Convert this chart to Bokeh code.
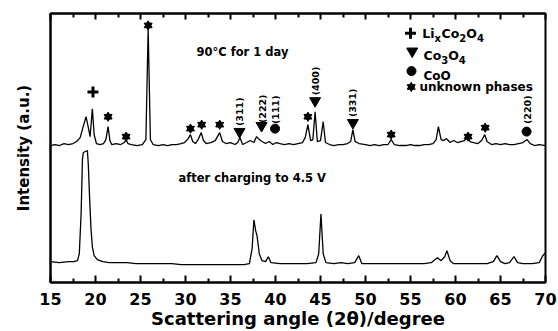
import math
from bokeh.plotting import figure
from bokeh.models import LinearAxis, FixedTicker, Range1d
from bokeh.embed import file_html
from bokeh.resources import INLINE
from bokeh.core.properties import value

FONT = "DejaVu Sans"

# ---------------- data ----------------
x_ticks = [15, 20, 25, 30, 35, 40, 45, 50, 55, 60, 65, 70]
x_tick_labels = ["15", "20", "25", "30", "35", "40", "45", "50", "55", "60", "65", "70"]
x_minor_ticks = [17.5, 22.5, 27.5, 32.5, 37.5, 42.5, 47.5, 52.5, 57.5, 62.5, 67.5]

# 90 C for 1 day (upper pattern)
upper_angle = [15.0, 15.5, 16.0, 16.5, 17.0, 17.5, 17.9, 18.3, 18.6, 18.95, 19.25, 19.4, 19.65, 19.85,
               20.1, 20.5, 20.9, 21.15, 21.4, 21.6, 21.8, 22.3, 22.8, 23.2, 23.4, 23.6, 24.0, 24.6,
               25.2, 25.6, 25.85, 26.1, 26.4, 27.0, 27.5, 28.0, 28.5, 29.0, 29.5, 29.9, 30.3, 30.55,
               30.8, 31.1, 31.4, 31.75, 32.0, 32.3, 32.8, 33.3, 33.8, 34.1, 34.5, 35.0, 35.5, 35.8,
               36.05, 36.35, 36.8, 37.2, 37.6, 37.9, 38.2, 38.5, 38.9, 39.3, 39.7, 40.1, 40.5, 41.0,
               41.5, 42.0, 42.5, 43.0, 43.3, 43.6, 43.9, 44.15, 44.4, 44.65, 45.0, 45.3, 45.55, 46.0,
               46.5, 47.0, 47.5, 48.0, 48.35, 48.6, 48.85, 49.3, 50.0, 50.5, 51.0, 51.5, 52.0, 52.5,
               52.85, 53.2, 53.8, 54.5, 55.0, 55.5, 56.0, 56.5, 57.0, 57.5, 57.85, 58.1, 58.4, 58.7,
               59.0, 59.4, 59.8, 60.2, 60.6, 61.0, 61.35, 61.6, 62.0, 62.5, 62.9, 63.25, 63.5, 64.0,
               64.5, 65.0, 65.5, 66.0, 66.5, 67.0, 67.5, 67.95, 68.3, 68.8, 69.3, 70.0]
upper_intensity = [138, 139, 138, 140, 139, 140, 142, 146, 156, 167, 154, 147, 175, 149,
                   140, 139, 140, 144, 157, 143, 139, 140, 139, 141, 144, 140, 139, 138,
                   139, 144, 256, 144, 139, 138, 139, 138, 139, 139, 140, 141, 145, 149,
                   142, 140, 144, 151, 143, 140, 141, 143, 151, 142, 140, 141, 139, 141,
                   146, 139, 141, 143, 141, 147, 144, 142, 140, 142, 139, 141, 140, 139,
                   140, 139, 140, 141, 146, 159, 143, 144, 172, 142, 143, 162, 141, 139,
                   138, 139, 139, 140, 142, 154, 142, 140, 139, 138, 139, 138, 139, 139,
                   144, 139, 138, 138, 139, 138, 138, 139, 139, 140, 144, 157, 144, 143,
                   145, 141, 143, 141, 142, 143, 146, 142, 141, 140, 143, 149, 142, 139,
                   140, 139, 140, 139, 139, 140, 141, 144, 140, 138, 139, 138]

# after charging to 4.5 V (lower pattern)
lower_angle = [15.0, 16.0, 17.0, 17.6, 18.0, 18.2, 18.4, 18.55, 18.65, 19.1, 19.2, 19.35, 19.5, 19.65,
               19.85, 20.2, 20.8, 21.5, 22.5, 23.5, 24.5, 25.5, 26.5, 27.5, 28.5, 29.5, 30.5, 31.5,
               32.5, 33.5, 34.5, 35.5, 36.5, 37.1, 37.4, 37.6, 37.8, 37.95, 38.2, 38.5, 38.9, 39.2,
               39.5, 40.5, 41.5, 42.5, 43.5, 44.5, 44.8, 45.05, 45.3, 45.6, 46.5, 47.3, 48.0, 48.8,
               49.25, 49.6, 50.5, 51.5, 52.5, 53.5, 54.5, 55.5, 56.5, 57.3, 57.7, 58.0, 58.4, 58.8,
               59.05, 59.4, 59.8, 60.5, 61.5, 62.5, 63.5, 64.2, 64.6, 65.0, 65.5, 66.0, 66.5, 66.9,
               67.5, 68.5, 69.3, 69.7, 70.0]
lower_intensity = [21, 20, 21, 21, 22, 29, 69, 124, 131, 133, 119, 84, 54, 36,
                   27, 23, 21, 20, 20, 20, 19, 19, 19, 19, 19, 18, 18, 18,
                   18, 18, 18, 18, 18, 19, 34, 63, 52, 47, 29, 22, 21, 26,
                   20, 19, 19, 19, 19, 20, 29, 69, 29, 20, 19, 20, 19, 20,
                   27, 19, 19, 19, 19, 19, 19, 19, 19, 20, 23, 25, 22, 26,
                   32, 22, 19, 19, 19, 19, 19, 21, 27, 21, 19, 20, 26, 20,
                   19, 19, 20, 27, 30]

# phase markers on the upper pattern
plus_angle = [19.72]
plus_int = [192]
star_angle = [21.4, 23.4, 25.85, 30.55, 31.8, 33.8, 43.6, 52.85, 61.4, 63.3]
star_int = [167, 147, 259, 155, 159, 159, 167, 149, 147, 156]
tri_angle = [36.0, 38.45, 44.4, 48.6]
tri_int = [152, 158, 183, 161]
circ_angle = [39.95, 67.9]
circ_int = [155, 152]

# Miller index labels
hkl_text = ["(311)", "(222)", "(111)", "(400)", "(331)", "(220)"]
hkl_angle = [36.0, 38.5, 40.05, 44.4, 48.6, 67.95]
hkl_int = [172, 175, 174, 203, 181, 174]

# legend
legend_marker_angle = [55.0, 55.19, 55.11, 55.08]
legend_marker_int = [251, 233, 213, 197]
# legend labels written as (main text, subscript) pieces
legend1_pieces = ["Li", "x", "Co", "2", "O", "4"]
legend2_pieces = ["Co", "3", "O", "4"]
legend_plain_text = ["CoO", "unknown phases"]
legend_plain_angle = [56.44, 56.0]
legend_plain_int = [208, 197]
legend_sub_angle = [56.3, 56.44]
legend_sub_int = [251, 229]

# curve annotations
note_text = ["90°C for 1 day", "after charging to 4.5 V"]
note_angle = [31.22, 29.22]
note_int = [232, 105]

# ---------------- figure ----------------
p = figure(width=558, height=331, x_range=Range1d(15, 70), y_range=Range1d(0, 271),
           output_backend="svg", toolbar_location=None,
           min_border_left=50, min_border_right=13, min_border_top=13, min_border_bottom=47,
           background_fill_color="white", border_fill_color="white")
p.xgrid.visible = False
p.ygrid.visible = False
p.outline_line_color = "black"
p.outline_line_width = 2

xa = p.xaxis[0]
xa.ticker = FixedTicker(ticks=x_ticks, minor_ticks=x_minor_ticks)
xa.major_label_overrides = {t: s for t, s in zip(x_ticks, x_tick_labels)}
xa.major_tick_in = 7
xa.major_tick_out = 0
xa.minor_tick_in = 4
xa.minor_tick_out = 0
xa.major_tick_line_width = 2
xa.minor_tick_line_width = 2
xa.axis_line_width = 2
xa.major_label_text_font = FONT
xa.major_label_text_font_style = "bold"
xa.major_label_text_font_size = "16px"
xa.major_label_text_color = "black"
xa.major_label_standoff = 10
xa.axis_label = "Scattering angle (2θ)/degree"
xa.axis_label_text_font = FONT
xa.axis_label_text_font_style = "bold"
xa.axis_label_text_font_size = "18px"
xa.axis_label_text_color = "black"
xa.axis_label_standoff = 0

ya = p.yaxis[0]
ya.ticker = FixedTicker(ticks=[])
ya.major_tick_in = 0
ya.major_tick_out = 0
ya.minor_tick_in = 0
ya.minor_tick_out = 0
ya.axis_line_width = 2
ya.major_label_text_font_size = "0px"
ya.major_label_standoff = 0
ya.axis_label = "Intensity (a.u.)"
ya.axis_label_text_font = FONT
ya.axis_label_text_font_style = "bold"
ya.axis_label_text_font_size = "15px"
ya.axis_label_text_color = "black"
ya.axis_label_standoff = 18

top = LinearAxis(ticker=FixedTicker(ticks=x_ticks, minor_ticks=x_minor_ticks),
                 major_label_overrides={t: "" for t in x_ticks},
                 major_label_text_font_size="0px", major_label_standoff=0,
                 major_tick_in=6, major_tick_out=0, minor_tick_in=4, minor_tick_out=0,
                 major_tick_line_width=2, minor_tick_line_width=2, axis_line_width=2)
p.add_layout(top, "above")

# patterns
p.line(upper_angle, upper_intensity, line_color="black", line_width=1.3)
p.line(lower_angle, lower_intensity, line_color="black", line_width=1.3)


def hexagram(xs, ys, size):
    # six-pointed star = upright + inverted triangle
    p.scatter(xs, ys, marker="triangle", size=size, line_color="black", fill_color="black")
    p.scatter(xs, ys, marker="inverted_triangle", size=size, line_color="black", fill_color="black")


# markers
p.scatter(plus_angle, plus_int, marker="cross", size=11, line_width=3, line_color="black")
hexagram(star_angle, star_int, 8)
p.scatter(tri_angle, tri_int, marker="inverted_triangle", size=11, line_color="black", fill_color="black")
p.scatter(circ_angle, circ_int, marker="circle", size=9, line_color="black", fill_color="black")

p.text(hkl_angle, hkl_int, text=hkl_text, angle=math.pi / 2, text_align="center",
       text_baseline="middle", text_font=value(FONT), text_font_style="bold",
       text_font_size="9.5px", text_color="black")

# legend markers
p.scatter([legend_marker_angle[0]], [legend_marker_int[0]], marker="cross", size=11, line_width=3,
          line_color="black")
p.scatter([legend_marker_angle[1]], [legend_marker_int[1]], marker="inverted_triangle", size=11,
          line_color="black", fill_color="black")
p.scatter([legend_marker_angle[2]], [legend_marker_int[2]], marker="circle", size=9,
          line_color="black", fill_color="black")
hexagram([legend_marker_angle[3]], [legend_marker_int[3]], 8)

# legend texts with subscripts
main_px, sub_px = 12.5, 10.0
w = {"L": 0.637, "i": 0.343, "x": 0.712, "C": 0.734, "o": 0.687, "O": 0.850,
     "2": 0.696, "3": 0.696, "4": 0.696}


def sub_label(pieces, x0, y0):
    off = 0.0
    for k, piece in enumerate(pieces):
        is_sub = (k % 2 == 1)
        size = sub_px if is_sub else main_px
        p.text([x0], [y0], text=[piece], x_offset=off, y_offset=5 if is_sub else 0,
               text_align="left", text_baseline="middle", text_font=value(FONT),
               text_font_style="bold", text_font_size=f"{size}px", text_color="black")
        off += sum(w[c] for c in piece) * size


sub_label(legend1_pieces, legend_sub_angle[0], legend_sub_int[0])
sub_label(legend2_pieces, legend_sub_angle[1], legend_sub_int[1])
p.text(legend_plain_angle, legend_plain_int, text=legend_plain_text, text_align="left",
       text_baseline="middle", text_font=value(FONT), text_font_style="bold",
       text_font_size="12px", text_color="black")

p.text(note_angle, note_int, text=note_text, text_align="left", text_baseline="middle",
       text_font=value(FONT), text_font_style="bold", text_font_size="11.5px", text_color="black")

open("out.html", "w").write(file_html(p, INLINE))
